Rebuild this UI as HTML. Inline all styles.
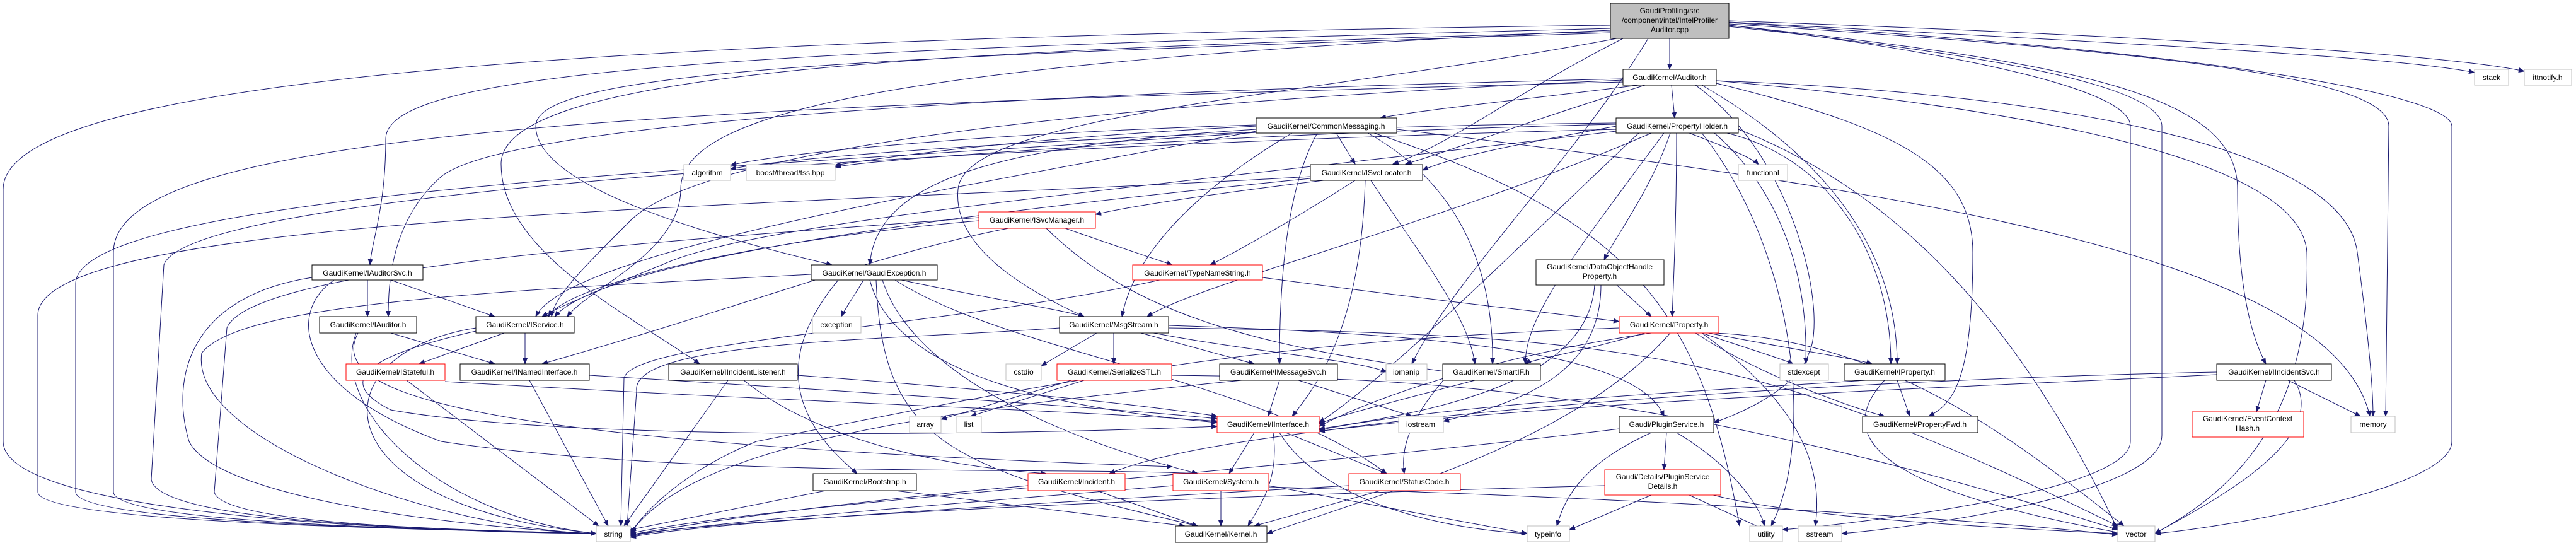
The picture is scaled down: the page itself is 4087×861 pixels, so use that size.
<!DOCTYPE html>
<html><head><meta charset="utf-8"><style>
html,body{margin:0;padding:0;background:#fff;}
svg{display:block;}
text{font-family:"Liberation Sans",sans-serif;font-size:12px;fill:#000;}
.e{fill:none;stroke:#191970;stroke-width:1;}
.n{fill:#fff;stroke:#000;stroke-width:1;}
.r{fill:#fff;stroke:#ff0000;stroke-width:1;}
.g{fill:#fff;stroke:#bfbfbf;stroke-width:1;}
</style></head><body>
<svg width="4087" height="861" viewBox="0 0 4087 861" xmlns="http://www.w3.org/2000/svg">
<defs><marker id="a" markerWidth="10" markerHeight="8" refX="9" refY="4" orient="auto" markerUnits="userSpaceOnUse"><path d="M0,0 L10,4 L0,8 z" fill="#191970"/></marker></defs>
<g class="e" marker-end="url(#a)">
<!-- cpp -->
<path d="M2649,61 L2649,110"/>
<path d="M2555,40 C1000,60 5,120 5,300 L5,700 C5,830 800,845 946,846"/>
<path d="M2555,45 C1200,80 612,110 612,220 C612,330 590,380 587,420"/>
<path d="M2555,50 C1500,80 795,110 795,260 C795,400 1000,500 1110,577"/>
<path d="M2555,52 C1400,90 850,110 850,200 C850,300 1150,380 1320,420"/>
<path d="M2565,61 C2100,150 1530,180 1520,300 C1510,400 1650,470 1720,502"/>
<path d="M2575,61 C2400,150 2300,230 2210,260"/>
<path d="M2615,61 C2500,250 2300,450 2240,577"/>
<path d="M2743,40 C3300,100 3550,150 3550,300 C3550,450 3570,530 3595,577"/>
<path d="M2743,35 C3400,70 3800,90 3926,115"/>
<path d="M2743,33 C3500,60 3900,90 4005,113"/>
<path d="M2743,38 C3400,80 3790,120 3790,200 L3785,660"/>
<path d="M2743,36 C3500,80 3890,150 3890,200 L3890,700 C3890,780 3500,840 3419,846"/>
<path d="M2743,40 C3000,70 3380,130 3380,200 L3380,700 C3380,780 2950,830 2828,840"/>
<path d="M2743,42 C3100,80 3430,130 3430,200 L3430,690 C3430,790 3000,840 2922,846"/>
<path d="M2555,48 C1400,100 1080,180 1080,300 C1080,400 930,460 900,502"/>
<!-- Auditor -->
<path d="M2600,135 C2400,160 2250,175 2190,187"/>
<path d="M2652,135 L2657,187"/>
<path d="M2575,125 C1500,150 800,200 700,280 C620,350 616,450 616,502"/>
<path d="M2575,127 C1600,170 1100,250 1000,350 C920,430 880,470 875,502"/>
<path d="M2610,135 C2400,200 2300,240 2230,260"/>
<path d="M2575,130 C1000,170 180,210 180,400 L180,780 C180,830 700,840 946,846"/>
<path d="M2723,128 C3200,170 3650,250 3660,400 C3670,700 3500,800 3419,846"/>
<path d="M2723,128 C3300,150 3720,240 3740,400 C3760,550 3765,620 3765,660"/>
<path d="M2700,135 C2900,250 3010,400 3010,577"/>
<path d="M2723,132 C3000,200 3130,260 3130,400 C3130,600 3100,640 3060,660"/>
<path d="M2690,135 C2850,250 2900,500 2870,560 C2850,620 2750,660 2719,670"/>
<!-- PropertyHolder -->
<path d="M2680,211 C2730,230 2780,250 2790,261"/>
<path d="M2564,200 C2400,230 2300,250 2257,270"/>
<path d="M2564,195 C2000,200 1300,240 1159,268"/>
<path d="M2564,197 C2000,210 1400,250 1325,265"/>
<path d="M2650,211 C2620,300 2560,380 2545,412"/>
<path d="M2660,211 C2660,350 2655,450 2653,502"/>
<path d="M2720,211 C2800,280 2870,400 2865,577"/>
<path d="M2740,211 C2900,250 3000,400 3000,577"/>
<path d="M2620,211 C2300,350 1900,450 1820,502"/>
<path d="M2564,205 C1600,230 300,300 260,420 L240,760 C250,830 700,840 946,846"/>
<path d="M2758,205 C3000,300 3200,500 3360,840"/>
<path d="M2700,211 C2850,400 2880,700 2810,834"/>
<path d="M2600,211 C2400,400 2200,600 2093,670"/>
<path d="M2640,211 C2500,400 2420,500 2420,577"/>
<path d="M2564,208 C1800,300 1200,350 1050,420 C950,460 880,490 860,502"/>
<!-- CommonMessaging -->
<path d="M2120,211 L2150,260"/>
<path d="M2050,211 C1900,300 1800,400 1780,502"/>
<path d="M2090,211 C2040,300 2030,450 2030,577"/>
<path d="M2170,211 C2330,300 2370,450 2368,577"/>
<path d="M1993,205 C1600,230 1390,280 1380,420"/>
<path d="M1993,208 C1500,300 900,400 850,502"/>
<path d="M1993,210 C1300,260 120,300 120,450 L120,780 C120,830 700,840 946,846"/>
<path d="M2216,205 C3000,300 3700,400 3760,660"/>
<path d="M1993,200 C1600,220 1400,250 1325,262"/>
<path d="M1993,198 C1600,210 1250,240 1159,262"/>
<path d="M2180,211 C2600,350 2700,500 2760,834"/>
<!-- ISvcLocator -->
<path d="M2100,286 C1900,310 1780,330 1738,340"/>
<path d="M2150,286 C2050,350 1960,400 1920,420"/>
<path d="M2175,286 C2250,400 2330,500 2340,577"/>
<path d="M2166,286 C2160,500 2100,600 2050,660"/>
<path d="M2079,280 C1200,330 60,340 60,500 L60,780 C60,830 700,840 946,846"/>
<path d="M2079,283 C1400,350 950,420 880,502"/>
<!-- ISvcManager -->
<path d="M1690,362 C1770,390 1830,410 1860,420"/>
<path d="M1553,350 C1200,380 900,450 870,502"/>
<path d="M1553,345 C1100,380 400,420 360,520 L340,780 C350,830 700,840 946,846"/>
<path d="M1660,362 C1800,500 2000,550 2300,590"/>
<path d="M1600,362 C1400,400 1200,480 860,577"/>
<!-- GaudiException -->
<path d="M1370,444 C1355,470 1340,490 1335,502"/>
<path d="M1430,444 C1550,470 1680,490 1720,502"/>
<path d="M1287,435 C800,460 380,480 320,560 C300,700 700,840 946,846"/>
<path d="M1400,444 C1450,600 1700,700 1900,751"/>
<path d="M1420,444 C1600,560 2000,600 2200,751"/>
<path d="M1390,444 C1400,700 1500,740 1900,834"/>
<path d="M1380,444 C1420,600 1700,650 1931,670"/>
<path d="M1330,444 C1200,600 1300,700 1360,751"/>
<!-- TypeNameString -->
<path d="M2003,440 C2300,480 2500,500 2569,510"/>
<path d="M1840,444 C1500,520 1000,540 990,600 L985,834"/>
<!-- DOHP -->
<path d="M2565,452 L2620,502"/>
<path d="M2530,452 C2520,600 2300,650 2093,680"/>
<path d="M2540,452 C2540,600 2400,640 2290,668"/>
<!-- MsgStream -->
<path d="M1740,528 L1652,580"/>
<path d="M1767,528 L1767,577"/>
<path d="M1810,528 L1990,577"/>
<path d="M1830,528 C2000,560 2150,570 2200,590"/>
<path d="M1681,520 C1400,540 1000,540 1010,620 L995,834"/>
<path d="M1854,520 C2600,530 2800,560 3360,834"/>
<path d="M1854,516 C2300,530 2600,560 2640,660"/>
<!-- Property -->
<path d="M2610,528 C2500,560 2430,570 2420,577"/>
<path d="M2700,528 C2780,555 2830,570 2845,577"/>
<path d="M2710,528 C2850,555 2950,570 2970,577"/>
<path d="M2690,528 C2800,600 2950,650 2990,660"/>
<path d="M2620,528 C2400,560 2200,620 2093,676"/>
<path d="M2650,528 C2500,700 2200,780 2010,846"/>
<path d="M2700,528 C2800,600 2900,700 2880,834"/>
<path d="M2720,528 C3000,540 3200,700 3370,834"/>
<path d="M2569,520 C2000,540 1700,600 1200,700 C1100,740 1030,800 1000,846"/>
<!-- SerializeSTL -->
<path d="M1700,603 L1493,665"/>
<path d="M1720,603 L1540,660"/>
<path d="M1859,595 C2200,600 2600,600 3360,840"/>
<!-- IMessageSvc -->
<path d="M2030,603 L2012,660"/>
<path d="M2060,603 L2240,660"/>
<path d="M1970,603 C1500,650 1100,700 1000,846"/>
<!-- SmartIF -->
<path d="M2340,603 C2200,640 2120,660 2093,672"/>
<path d="M2290,603 C2250,650 2220,700 2228,751"/>
<!-- IInterface -->
<path d="M1990,686 L1950,751"/>
<path d="M2040,686 L2200,751"/>
<path d="M2020,686 C2030,760 2000,800 1980,834"/>
<path d="M2030,686 C2100,800 2300,840 2423,846"/>
<!-- IProperty -->
<path d="M3010,603 L3030,660"/>
<path d="M2960,603 C2700,620 2300,640 2093,682"/>
<path d="M2990,603 C2900,700 3000,780 3370,846"/>
<!-- IIncidentSvc -->
<path d="M3595,603 L3580,653"/>
<path d="M3630,603 L3745,660"/>
<path d="M3640,603 C3700,700 3500,800 3419,846"/>
<path d="M3517,590 C3000,600 2400,640 2093,684"/>
<path d="M3517,594 C3000,620 2000,650 1760,751"/>
<!-- PluginService -->
<path d="M2644,686 L2640,745"/>
<path d="M2620,686 C2500,740 2480,800 2470,834"/>
<path d="M2660,686 C2750,740 2790,800 2800,834"/>
<path d="M2569,680 C2000,750 1200,800 1000,846"/>
<!-- PluginServiceDetails -->
<path d="M2620,785 L2490,840"/>
<path d="M2680,785 L2800,840"/>
<path d="M2546,770 C1800,790 1200,820 1000,848"/>
<path d="M2700,780 C2800,810 3000,830 3360,846"/>
<!-- Incident / System / StatusCode / Bootstrap -->
<path d="M1740,778 L1900,834"/>
<path d="M1631,770 C1300,800 1100,830 1000,848"/>
<path d="M1937,778 L1937,834"/>
<path d="M2013,770 L2423,846"/>
<path d="M1861,770 C1500,800 1100,830 1000,850"/>
<path d="M2013,772 C2600,790 3100,820 3360,848"/>
<path d="M2190,778 L1990,834"/>
<path d="M2140,770 C1600,800 1100,830 1000,852"/>
<path d="M1420,778 L1880,834"/>
<path d="M1310,778 L1000,840"/>
<!-- lower left nodes -->
<path d="M583,444 L583,502"/>
<path d="M620,444 L785,502"/>
<path d="M495,440 C300,470 270,600 300,700 C350,800 800,840 946,846"/>
<path d="M530,444 C450,500 480,620 700,700 C1100,760 1700,740 1900,751"/>
<path d="M620,528 L785,577"/>
<path d="M565,528 C520,650 700,820 946,846"/>
<path d="M568,528 C520,620 700,700 1860,740"/>
<path d="M800,528 L665,577"/>
<path d="M833,528 L833,577"/>
<path d="M755,525 C600,560 520,600 620,650 C900,700 1600,690 1931,676"/>
<path d="M755,520 C500,560 500,800 946,846"/>
<path d="M645,603 L950,834"/>
<path d="M706,605 C1300,640 1700,650 1931,668"/>
<path d="M840,603 L965,834"/>
<path d="M935,595 C1500,630 1800,650 1931,664"/>
<path d="M1155,603 L990,834"/>
<path d="M1180,603 C1300,700 1500,740 1660,751"/>
<path d="M1265,595 C1600,620 1800,640 1931,660"/>
</g>
<!-- nodes -->
<rect x="2555" y="5" width="188" height="56" fill="#bfbfbf" stroke="#000"/>
<text x="2649" y="21" text-anchor="middle">GaudiProfiling/src</text>
<text x="2649" y="36" text-anchor="middle">/component/intel/IntelProfiler</text>
<text x="2649" y="51" text-anchor="middle">Auditor.cpp</text>
<g>
<rect class="n" x="2575" y="110" width="148" height="25"/><text x="2649" y="127" text-anchor="middle">GaudiKernel/Auditor.h</text>
<rect class="n" x="1993" y="187" width="223" height="24"/><text x="2104" y="204" text-anchor="middle">GaudiKernel/CommonMessaging.h</text>
<rect class="n" x="2564" y="187" width="194" height="24"/><text x="2661" y="204" text-anchor="middle">GaudiKernel/PropertyHolder.h</text>
<rect class="n" x="2079" y="261" width="178" height="25"/><text x="2168" y="278" text-anchor="middle">GaudiKernel/ISvcLocator.h</text>
<rect class="g" x="1085" y="261" width="74" height="25"/><text x="1122" y="278" text-anchor="middle">algorithm</text>
<rect class="g" x="1184" y="261" width="141" height="25"/><text x="1254" y="278" text-anchor="middle">boost/thread/tss.hpp</text>
<rect class="g" x="2758" y="261" width="78" height="25"/><text x="2797" y="278" text-anchor="middle">functional</text>
<rect class="r" x="1553" y="336" width="185" height="26"/><text x="1645" y="353" text-anchor="middle">GaudiKernel/ISvcManager.h</text>
<rect class="n" x="495" y="420" width="176" height="24"/><text x="583" y="437" text-anchor="middle">GaudiKernel/IAuditorSvc.h</text>
<rect class="n" x="1287" y="420" width="200" height="24"/><text x="1387" y="437" text-anchor="middle">GaudiKernel/GaudiException.h</text>
<rect class="r" x="1797" y="420" width="206" height="24"/><text x="1900" y="437" text-anchor="middle">GaudiKernel/TypeNameString.h</text>
<rect class="n" x="2437" y="412" width="203" height="40"/><text x="2538" y="427" text-anchor="middle">GaudiKernel/DataObjectHandle</text><text x="2538" y="442" text-anchor="middle">Property.h</text>
<rect class="n" x="507" y="502" width="154" height="26"/><text x="584" y="519" text-anchor="middle">GaudiKernel/IAuditor.h</text>
<rect class="n" x="755" y="502" width="156" height="26"/><text x="833" y="519" text-anchor="middle">GaudiKernel/IService.h</text>
<rect class="g" x="1289" y="502" width="77" height="26"/><text x="1327" y="519" text-anchor="middle">exception</text>
<rect class="n" x="1681" y="502" width="173" height="26"/><text x="1767" y="519" text-anchor="middle">GaudiKernel/MsgStream.h</text>
<rect class="r" x="2569" y="502" width="158" height="26"/><text x="2648" y="519" text-anchor="middle">GaudiKernel/Property.h</text>
<rect class="r" x="549" y="577" width="157" height="26"/><text x="627" y="594" text-anchor="middle">GaudiKernel/IStateful.h</text>
<rect class="n" x="730" y="577" width="205" height="26"/><text x="832" y="594" text-anchor="middle">GaudiKernel/INamedInterface.h</text>
<rect class="n" x="1061" y="577" width="204" height="26"/><text x="1163" y="594" text-anchor="middle">GaudiKernel/IIncidentListener.h</text>
<rect class="g" x="1596" y="577" width="56" height="26"/><text x="1624" y="594" text-anchor="middle">cstdio</text>
<rect class="r" x="1677" y="577" width="182" height="26"/><text x="1768" y="594" text-anchor="middle">GaudiKernel/SerializeSTL.h</text>
<rect class="n" x="1935" y="577" width="187" height="26"/><text x="2028" y="594" text-anchor="middle">GaudiKernel/IMessageSvc.h</text>
<rect class="g" x="2199" y="577" width="65" height="26"/><text x="2231" y="594" text-anchor="middle">iomanip</text>
<rect class="n" x="2289" y="577" width="155" height="26"/><text x="2366" y="594" text-anchor="middle">GaudiKernel/SmartIF.h</text>
<rect class="g" x="2824" y="577" width="77" height="26"/><text x="2862" y="594" text-anchor="middle">stdexcept</text>
<rect class="n" x="2926" y="577" width="160" height="26"/><text x="3006" y="594" text-anchor="middle">GaudiKernel/IProperty.h</text>
<rect class="n" x="3517" y="577" width="182" height="26"/><text x="3608" y="594" text-anchor="middle">GaudiKernel/IIncidentSvc.h</text>
<rect class="g" x="1443" y="660" width="50" height="26"/><text x="1468" y="677" text-anchor="middle">array</text>
<rect class="g" x="1518" y="660" width="39" height="26"/><text x="1537" y="677" text-anchor="middle">list</text>
<rect class="r" x="1931" y="660" width="162" height="26"/><text x="2012" y="677" text-anchor="middle">GaudiKernel/IInterface.h</text>
<rect class="g" x="2219" y="660" width="71" height="26"/><text x="2254" y="677" text-anchor="middle">iostream</text>
<rect class="n" x="2569" y="660" width="150" height="26"/><text x="2644" y="677" text-anchor="middle">Gaudi/PluginService.h</text>
<rect class="n" x="2955" y="660" width="183" height="26"/><text x="3046" y="677" text-anchor="middle">GaudiKernel/PropertyFwd.h</text>
<rect class="r" x="3478" y="653" width="177" height="40"/><text x="3566" y="668" text-anchor="middle">GaudiKernel/EventContext</text><text x="3566" y="683" text-anchor="middle">Hash.h</text>
<rect class="g" x="3730" y="660" width="70" height="26"/><text x="3765" y="677" text-anchor="middle">memory</text>
<rect class="n" x="1290" y="751" width="164" height="27"/><text x="1372" y="768" text-anchor="middle">GaudiKernel/Bootstrap.h</text>
<rect class="r" x="1631" y="751" width="154" height="27"/><text x="1708" y="768" text-anchor="middle">GaudiKernel/Incident.h</text>
<rect class="r" x="1861" y="751" width="152" height="27"/><text x="1937" y="768" text-anchor="middle">GaudiKernel/System.h</text>
<rect class="r" x="2140" y="751" width="177" height="27"/><text x="2228" y="768" text-anchor="middle">GaudiKernel/StatusCode.h</text>
<rect class="r" x="2546" y="745" width="184" height="40"/><text x="2638" y="760" text-anchor="middle">Gaudi/Details/PluginService</text><text x="2638" y="775" text-anchor="middle">Details.h</text>
<rect class="g" x="946" y="834" width="54" height="25"/><text x="973" y="851" text-anchor="middle">string</text>
<rect class="n" x="1865" y="834" width="145" height="26"/><text x="1937" y="851" text-anchor="middle">GaudiKernel/Kernel.h</text>
<rect class="g" x="2423" y="834" width="67" height="25"/><text x="2456" y="851" text-anchor="middle">typeinfo</text>
<rect class="g" x="2776" y="834" width="52" height="25"/><text x="2802" y="851" text-anchor="middle">utility</text>
<rect class="g" x="2853" y="834" width="69" height="25"/><text x="2887" y="851" text-anchor="middle">sstream</text>
<rect class="g" x="3360" y="834" width="59" height="25"/><text x="3389" y="851" text-anchor="middle">vector</text>
<rect class="g" x="3926" y="110" width="54" height="25"/><text x="3953" y="127" text-anchor="middle">stack</text>
<rect class="g" x="4005" y="110" width="75" height="25"/><text x="4042" y="127" text-anchor="middle">ittnotify.h</text>
</g>
</svg>
</body></html>
